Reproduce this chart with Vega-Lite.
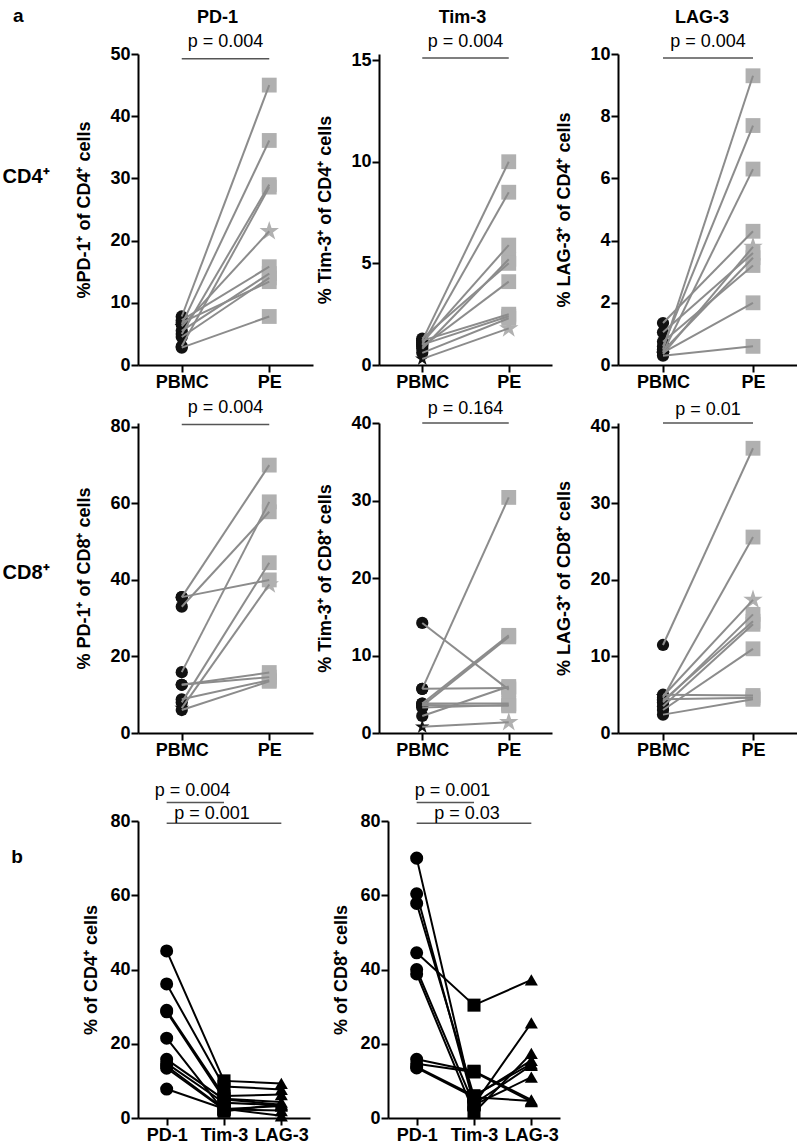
{
"$schema": "https://vega.github.io/schema/vega-lite/v6.json",
"padding": {"left": 0, "top": 7, "right": 0, "bottom": 0},
"config": {
 "font": "Liberation Sans",
 "view": {"stroke": null},
 "axis": {"grid": false, "domainColor": "#000000", "domainWidth": 2, "tickColor": "#000000", "tickWidth": 2, "tickSize": 7, "labelColor": "#000000", "labelFontSize": 18, "labelFontWeight": "bold", "labelPadding": 1, "titleColor": "#000000", "titleFontSize": 18, "titleFontWeight": "bold", "titlePadding": 16},
 "title": {"fontSize": 18, "fontWeight": "bold", "color": "#000000"},
 "text": {"color": "#000000"}
},
"datasets": {"cells": [
{"cells":"CD4","marker":"PD-1","patient":"P1","site":"PBMC","value":7.8},{"cells":"CD4","marker":"PD-1","patient":"P1","site":"PE","value":45.0},
{"cells":"CD4","marker":"PD-1","patient":"P2","site":"PBMC","value":6.5},{"cells":"CD4","marker":"PD-1","patient":"P2","site":"PE","value":36.1},
{"cells":"CD4","marker":"PD-1","patient":"P3","site":"PBMC","value":5.0},{"cells":"CD4","marker":"PD-1","patient":"P3","site":"PE","value":29.0},
{"cells":"CD4","marker":"PD-1","patient":"P4","site":"PBMC","value":3.0},{"cells":"CD4","marker":"PD-1","patient":"P4","site":"PE","value":28.6},
{"cells":"CD4","marker":"PD-1","patient":"P5","site":"PBMC","value":6.2},{"cells":"CD4","marker":"PD-1","patient":"P5","site":"PE","value":21.5},
{"cells":"CD4","marker":"PD-1","patient":"P6","site":"PBMC","value":7.2},{"cells":"CD4","marker":"PD-1","patient":"P6","site":"PE","value":15.8},
{"cells":"CD4","marker":"PD-1","patient":"P7","site":"PBMC","value":5.5},{"cells":"CD4","marker":"PD-1","patient":"P7","site":"PE","value":14.7},
{"cells":"CD4","marker":"PD-1","patient":"P8","site":"PBMC","value":4.5},{"cells":"CD4","marker":"PD-1","patient":"P8","site":"PE","value":14.0},
{"cells":"CD4","marker":"PD-1","patient":"P9","site":"PBMC","value":6.8},{"cells":"CD4","marker":"PD-1","patient":"P9","site":"PE","value":13.4},
{"cells":"CD4","marker":"PD-1","patient":"P10","site":"PBMC","value":2.8},{"cells":"CD4","marker":"PD-1","patient":"P10","site":"PE","value":7.8},
{"cells":"CD4","marker":"Tim-3","patient":"P1","site":"PBMC","value":1.2},{"cells":"CD4","marker":"Tim-3","patient":"P1","site":"PE","value":10.0},
{"cells":"CD4","marker":"Tim-3","patient":"P2","site":"PBMC","value":1.0},{"cells":"CD4","marker":"Tim-3","patient":"P2","site":"PE","value":8.5},
{"cells":"CD4","marker":"Tim-3","patient":"P3","site":"PBMC","value":1.1},{"cells":"CD4","marker":"Tim-3","patient":"P3","site":"PE","value":5.9},
{"cells":"CD4","marker":"Tim-3","patient":"P4","site":"PBMC","value":0.8},{"cells":"CD4","marker":"Tim-3","patient":"P4","site":"PE","value":5.2},
{"cells":"CD4","marker":"Tim-3","patient":"P5","site":"PBMC","value":0.3},{"cells":"CD4","marker":"Tim-3","patient":"P5","site":"PE","value":1.8},
{"cells":"CD4","marker":"Tim-3","patient":"P6","site":"PBMC","value":1.3},{"cells":"CD4","marker":"Tim-3","patient":"P6","site":"PE","value":5.0},
{"cells":"CD4","marker":"Tim-3","patient":"P7","site":"PBMC","value":0.9},{"cells":"CD4","marker":"Tim-3","patient":"P7","site":"PE","value":4.1},
{"cells":"CD4","marker":"Tim-3","patient":"P8","site":"PBMC","value":1.0},{"cells":"CD4","marker":"Tim-3","patient":"P8","site":"PE","value":2.4},
{"cells":"CD4","marker":"Tim-3","patient":"P9","site":"PBMC","value":0.6},{"cells":"CD4","marker":"Tim-3","patient":"P9","site":"PE","value":2.3},
{"cells":"CD4","marker":"Tim-3","patient":"P10","site":"PBMC","value":1.2},{"cells":"CD4","marker":"Tim-3","patient":"P10","site":"PE","value":2.5},
{"cells":"CD4","marker":"LAG-3","patient":"P1","site":"PBMC","value":0.5},{"cells":"CD4","marker":"LAG-3","patient":"P1","site":"PE","value":9.3},
{"cells":"CD4","marker":"LAG-3","patient":"P2","site":"PBMC","value":0.6},{"cells":"CD4","marker":"LAG-3","patient":"P2","site":"PE","value":7.7},
{"cells":"CD4","marker":"LAG-3","patient":"P3","site":"PBMC","value":0.4},{"cells":"CD4","marker":"LAG-3","patient":"P3","site":"PE","value":6.3},
{"cells":"CD4","marker":"LAG-3","patient":"P4","site":"PBMC","value":1.35},{"cells":"CD4","marker":"LAG-3","patient":"P4","site":"PE","value":4.3},
{"cells":"CD4","marker":"LAG-3","patient":"P5","site":"PBMC","value":0.35},{"cells":"CD4","marker":"LAG-3","patient":"P5","site":"PE","value":3.8},
{"cells":"CD4","marker":"LAG-3","patient":"P6","site":"PBMC","value":1.05},{"cells":"CD4","marker":"LAG-3","patient":"P6","site":"PE","value":3.6},
{"cells":"CD4","marker":"LAG-3","patient":"P7","site":"PBMC","value":0.45},{"cells":"CD4","marker":"LAG-3","patient":"P7","site":"PE","value":3.45},
{"cells":"CD4","marker":"LAG-3","patient":"P8","site":"PBMC","value":0.75},{"cells":"CD4","marker":"LAG-3","patient":"P8","site":"PE","value":3.2},
{"cells":"CD4","marker":"LAG-3","patient":"P9","site":"PBMC","value":0.4},{"cells":"CD4","marker":"LAG-3","patient":"P9","site":"PE","value":2.0},
{"cells":"CD4","marker":"LAG-3","patient":"P10","site":"PBMC","value":0.3},{"cells":"CD4","marker":"LAG-3","patient":"P10","site":"PE","value":0.6},
{"cells":"CD8","marker":"PD-1","patient":"P1","site":"PBMC","value":8.0},{"cells":"CD8","marker":"PD-1","patient":"P1","site":"PE","value":44.5},
{"cells":"CD8","marker":"PD-1","patient":"P2","site":"PBMC","value":35.5},{"cells":"CD8","marker":"PD-1","patient":"P2","site":"PE","value":70.0},
{"cells":"CD8","marker":"PD-1","patient":"P3","site":"PBMC","value":33.0},{"cells":"CD8","marker":"PD-1","patient":"P3","site":"PE","value":57.8},
{"cells":"CD8","marker":"PD-1","patient":"P4","site":"PBMC","value":15.9},{"cells":"CD8","marker":"PD-1","patient":"P4","site":"PE","value":60.4},
{"cells":"CD8","marker":"PD-1","patient":"P5","site":"PBMC","value":6.5},{"cells":"CD8","marker":"PD-1","patient":"P5","site":"PE","value":38.8},
{"cells":"CD8","marker":"PD-1","patient":"P6","site":"PBMC","value":35.5},{"cells":"CD8","marker":"PD-1","patient":"P6","site":"PE","value":40.0},
{"cells":"CD8","marker":"PD-1","patient":"P7","site":"PBMC","value":12.6},{"cells":"CD8","marker":"PD-1","patient":"P7","site":"PE","value":15.8},
{"cells":"CD8","marker":"PD-1","patient":"P8","site":"PBMC","value":12.6},{"cells":"CD8","marker":"PD-1","patient":"P8","site":"PE","value":14.6},
{"cells":"CD8","marker":"PD-1","patient":"P9","site":"PBMC","value":8.8},{"cells":"CD8","marker":"PD-1","patient":"P9","site":"PE","value":13.8},
{"cells":"CD8","marker":"PD-1","patient":"P10","site":"PBMC","value":6.0},{"cells":"CD8","marker":"PD-1","patient":"P10","site":"PE","value":13.5},
{"cells":"CD8","marker":"Tim-3","patient":"P1","site":"PBMC","value":5.7},{"cells":"CD8","marker":"Tim-3","patient":"P1","site":"PE","value":30.4},
{"cells":"CD8","marker":"Tim-3","patient":"P2","site":"PBMC","value":3.3},{"cells":"CD8","marker":"Tim-3","patient":"P2","site":"PE","value":3.6},
{"cells":"CD8","marker":"Tim-3","patient":"P3","site":"PBMC","value":5.7},{"cells":"CD8","marker":"Tim-3","patient":"P3","site":"PE","value":5.8},
{"cells":"CD8","marker":"Tim-3","patient":"P4","site":"PBMC","value":3.8},{"cells":"CD8","marker":"Tim-3","patient":"P4","site":"PE","value":3.8},
{"cells":"CD8","marker":"Tim-3","patient":"P5","site":"PBMC","value":0.8},{"cells":"CD8","marker":"Tim-3","patient":"P5","site":"PE","value":1.4},
{"cells":"CD8","marker":"Tim-3","patient":"P6","site":"PBMC","value":3.6},{"cells":"CD8","marker":"Tim-3","patient":"P6","site":"PE","value":3.5},
{"cells":"CD8","marker":"Tim-3","patient":"P7","site":"PBMC","value":3.8},{"cells":"CD8","marker":"Tim-3","patient":"P7","site":"PE","value":12.6},
{"cells":"CD8","marker":"Tim-3","patient":"P8","site":"PBMC","value":3.5},{"cells":"CD8","marker":"Tim-3","patient":"P8","site":"PE","value":12.4},
{"cells":"CD8","marker":"Tim-3","patient":"P9","site":"PBMC","value":2.2},{"cells":"CD8","marker":"Tim-3","patient":"P9","site":"PE","value":6.0},
{"cells":"CD8","marker":"Tim-3","patient":"P10","site":"PBMC","value":14.2},{"cells":"CD8","marker":"Tim-3","patient":"P10","site":"PE","value":5.6},
{"cells":"CD8","marker":"LAG-3","patient":"P1","site":"PBMC","value":11.5},{"cells":"CD8","marker":"LAG-3","patient":"P1","site":"PE","value":37.2},
{"cells":"CD8","marker":"LAG-3","patient":"P2","site":"PBMC","value":4.6},{"cells":"CD8","marker":"LAG-3","patient":"P2","site":"PE","value":25.6},
{"cells":"CD8","marker":"LAG-3","patient":"P3","site":"PBMC","value":4.0},{"cells":"CD8","marker":"LAG-3","patient":"P3","site":"PE","value":15.5},
{"cells":"CD8","marker":"LAG-3","patient":"P4","site":"PBMC","value":3.5},{"cells":"CD8","marker":"LAG-3","patient":"P4","site":"PE","value":14.2},
{"cells":"CD8","marker":"LAG-3","patient":"P5","site":"PBMC","value":4.8},{"cells":"CD8","marker":"LAG-3","patient":"P5","site":"PE","value":17.4},
{"cells":"CD8","marker":"LAG-3","patient":"P6","site":"PBMC","value":3.0},{"cells":"CD8","marker":"LAG-3","patient":"P6","site":"PE","value":11.0},
{"cells":"CD8","marker":"LAG-3","patient":"P7","site":"PBMC","value":5.0},{"cells":"CD8","marker":"LAG-3","patient":"P7","site":"PE","value":4.9},
{"cells":"CD8","marker":"LAG-3","patient":"P8","site":"PBMC","value":2.4},{"cells":"CD8","marker":"LAG-3","patient":"P8","site":"PE","value":4.4},
{"cells":"CD8","marker":"LAG-3","patient":"P9","site":"PBMC","value":4.2},{"cells":"CD8","marker":"LAG-3","patient":"P9","site":"PE","value":14.6},
{"cells":"CD8","marker":"LAG-3","patient":"P10","site":"PBMC","value":4.4},{"cells":"CD8","marker":"LAG-3","patient":"P10","site":"PE","value":4.6}
]},
"spacing": 23,
"resolve": {"scale": {"x": "independent", "y": "independent", "color": "independent", "shape": "independent", "size": "independent"}},
"vconcat": [
{"spacing": 8,
 "resolve": {"scale": {"x": "independent", "y": "independent", "color": "independent", "shape": "independent", "size": "independent"}},
 "vconcat": [
 {"spacing": 23,
  "resolve": {"scale": {"x": "independent", "y": "independent", "color": "independent", "shape": "independent", "size": "independent"}},
  "hconcat": [
  {"width": 52, "height": 246,
   "title": {"text": "a", "anchor": "start", "frame": "group", "fontSize": 19, "offset": 28, "dx": 13},
   "data": {"values": [{"label": "CD4⁺"}]},
   "mark": {"type": "text", "fontSize": 20, "fontWeight": "bold", "color": "#000000"},
   "encoding": {"text": {"field": "label", "type": "nominal"}}},
  {"bounds": "flush", "spacing": 66,
   "resolve": {"scale": {"x": "independent", "y": "independent", "color": "independent", "shape": "independent", "size": "independent"}},
   "hconcat": [
   {"width": 175, "height": 311,
    "title": {"text": "PD-1", "frame": "group", "offset": 6, "dx": -8},
    "layer": [
     {"data": {"name": "cells"}, "transform": [{"filter": "datum.cells==='CD4' && datum.marker==='PD-1'"}],
      "mark": {"type": "point", "filled": true, "opacity": 1},
      "encoding": {
       "x": {"field": "site", "type": "nominal", "scale": {"type": "point", "domain": ["PBMC", "PE"], "padding": 0.5}, "axis": {"title": null, "labelAngle": 0}},
       "y": {"field": "value", "type": "quantitative", "scale": {"domain": [0, 50], "nice": false}, "axis": {"title": "%PD-1⁺ of CD4⁺ cells", "values": [0, 10, 20, 30, 40, 50]}},
       "color": {"field": "site", "type": "nominal", "scale": {"domain": ["PBMC", "PE"], "range": ["#111111", "#b0b0b0"]}, "legend": null},
       "shape": {"condition": {"test": "datum.patient==='P5'", "value": "M0,-1L0.2245,-0.309L0.9511,-0.309L0.3633,0.118L0.5878,0.809L0,0.382L-0.5878,0.809L-0.3633,0.118L-0.9511,-0.309L-0.2245,-0.309Z"}, "field": "site", "type": "nominal", "scale": {"domain": ["PBMC", "PE"], "range": ["circle", "square"]}, "legend": null},
       "size": {"condition": [{"test": "datum.patient==='P5' && datum.site==='PE'", "value": 420}, {"test": "datum.patient==='P5'", "value": 230}], "field": "site", "type": "ordinal", "scale": {"domain": ["PBMC", "PE"], "range": [150, 220]}, "legend": null}}},
     {"data": {"name": "cells"}, "transform": [{"filter": "datum.cells==='CD4' && datum.marker==='PD-1'"}],
      "mark": {"type": "line", "color": "#8c8c8c", "strokeWidth": 2},
      "encoding": {
       "x": {"field": "site", "type": "nominal", "scale": {"type": "point", "domain": ["PBMC", "PE"], "padding": 0.5}, "axis": {"title": null, "labelAngle": 0}},
       "y": {"field": "value", "type": "quantitative", "scale": {"domain": [0, 50], "nice": false}, "axis": {"title": "%PD-1⁺ of CD4⁺ cells", "values": [0, 10, 20, 30, 40, 50]}},
       "detail": {"field": "patient", "type": "nominal"}}},
     {"data": {"values": [{"p": "p = 0.004"}]}, "mark": {"type": "rule", "color": "#555555", "strokeWidth": 1.5},
      "encoding": {"x": {"datum": "PBMC"}, "x2": {"datum": "PE"}, "y": {"datum": 49.25}}},
     {"data": {"values": [{"p": "p = 0.004"}]}, "mark": {"type": "text", "fontSize": 18, "baseline": "middle", "color": "#000000"},
      "encoding": {"text": {"field": "p", "type": "nominal"}, "y": {"datum": 51.9}}}
    ]},
   {"width": 173, "height": 311,
    "title": {"text": "Tim-3", "frame": "group", "offset": 6, "dx": -3},
    "layer": [
     {"data": {"name": "cells"}, "transform": [{"filter": "datum.cells==='CD4' && datum.marker==='Tim-3'"}],
      "mark": {"type": "point", "filled": true, "opacity": 1},
      "encoding": {
       "x": {"field": "site", "type": "nominal", "scale": {"type": "point", "domain": ["PBMC", "PE"], "padding": 0.5}, "axis": {"title": null, "labelAngle": 0}},
       "y": {"field": "value", "type": "quantitative", "scale": {"domain": [0, 15.3], "nice": false}, "axis": {"title": "% Tim-3⁺ of CD4⁺ cells", "values": [0, 5, 10, 15]}},
       "color": {"field": "site", "type": "nominal", "scale": {"domain": ["PBMC", "PE"], "range": ["#111111", "#b0b0b0"]}, "legend": null},
       "shape": {"condition": {"test": "datum.patient==='P5'", "value": "M0,-1L0.2245,-0.309L0.9511,-0.309L0.3633,0.118L0.5878,0.809L0,0.382L-0.5878,0.809L-0.3633,0.118L-0.9511,-0.309L-0.2245,-0.309Z"}, "field": "site", "type": "nominal", "scale": {"domain": ["PBMC", "PE"], "range": ["circle", "square"]}, "legend": null},
       "size": {"condition": [{"test": "datum.patient==='P5' && datum.site==='PE'", "value": 420}, {"test": "datum.patient==='P5'", "value": 230}], "field": "site", "type": "ordinal", "scale": {"domain": ["PBMC", "PE"], "range": [150, 220]}, "legend": null}}},
     {"data": {"name": "cells"}, "transform": [{"filter": "datum.cells==='CD4' && datum.marker==='Tim-3'"}],
      "mark": {"type": "line", "color": "#8c8c8c", "strokeWidth": 2},
      "encoding": {
       "x": {"field": "site", "type": "nominal", "scale": {"type": "point", "domain": ["PBMC", "PE"], "padding": 0.5}, "axis": {"title": null, "labelAngle": 0}},
       "y": {"field": "value", "type": "quantitative", "scale": {"domain": [0, 15.3], "nice": false}, "axis": {"title": "% Tim-3⁺ of CD4⁺ cells", "values": [0, 5, 10, 15]}},
       "detail": {"field": "patient", "type": "nominal"}}},
     {"data": {"values": [{"p": "p = 0.004"}]}, "mark": {"type": "rule", "color": "#555555", "strokeWidth": 1.5},
      "encoding": {"x": {"datum": "PBMC"}, "x2": {"datum": "PE"}, "y": {"datum": 15.1}}},
     {"data": {"values": [{"p": "p = 0.004"}]}, "mark": {"type": "text", "fontSize": 18, "baseline": "middle", "color": "#000000"},
      "encoding": {"text": {"field": "p", "type": "nominal"}, "y": {"datum": 15.89}}}
    ]},
   {"width": 180, "height": 311,
    "title": {"text": "LAG-3", "frame": "group", "offset": 6, "dx": -6},
    "layer": [
     {"data": {"name": "cells"}, "transform": [{"filter": "datum.cells==='CD4' && datum.marker==='LAG-3'"}],
      "mark": {"type": "point", "filled": true, "opacity": 1},
      "encoding": {
       "x": {"field": "site", "type": "nominal", "scale": {"type": "point", "domain": ["PBMC", "PE"], "padding": 0.5}, "axis": {"title": null, "labelAngle": 0}},
       "y": {"field": "value", "type": "quantitative", "scale": {"domain": [0, 10], "nice": false}, "axis": {"title": "% LAG-3⁺ of CD4⁺ cells", "values": [0, 2, 4, 6, 8, 10]}},
       "color": {"field": "site", "type": "nominal", "scale": {"domain": ["PBMC", "PE"], "range": ["#111111", "#b0b0b0"]}, "legend": null},
       "shape": {"condition": {"test": "datum.patient==='P5'", "value": "M0,-1L0.2245,-0.309L0.9511,-0.309L0.3633,0.118L0.5878,0.809L0,0.382L-0.5878,0.809L-0.3633,0.118L-0.9511,-0.309L-0.2245,-0.309Z"}, "field": "site", "type": "nominal", "scale": {"domain": ["PBMC", "PE"], "range": ["circle", "square"]}, "legend": null},
       "size": {"condition": [{"test": "datum.patient==='P5' && datum.site==='PE'", "value": 420}, {"test": "datum.patient==='P5'", "value": 230}], "field": "site", "type": "ordinal", "scale": {"domain": ["PBMC", "PE"], "range": [150, 220]}, "legend": null}}},
     {"data": {"name": "cells"}, "transform": [{"filter": "datum.cells==='CD4' && datum.marker==='LAG-3'"}],
      "mark": {"type": "line", "color": "#8c8c8c", "strokeWidth": 2},
      "encoding": {
       "x": {"field": "site", "type": "nominal", "scale": {"type": "point", "domain": ["PBMC", "PE"], "padding": 0.5}, "axis": {"title": null, "labelAngle": 0}},
       "y": {"field": "value", "type": "quantitative", "scale": {"domain": [0, 10], "nice": false}, "axis": {"title": "% LAG-3⁺ of CD4⁺ cells", "values": [0, 2, 4, 6, 8, 10]}},
       "detail": {"field": "patient", "type": "nominal"}}},
     {"data": {"values": [{"p": "p = 0.004"}]}, "mark": {"type": "rule", "color": "#555555", "strokeWidth": 1.5},
      "encoding": {"x": {"datum": "PBMC"}, "x2": {"datum": "PE"}, "y": {"datum": 9.87}}},
     {"data": {"values": [{"p": "p = 0.004"}]}, "mark": {"type": "text", "fontSize": 18, "baseline": "middle", "color": "#000000"},
      "encoding": {"text": {"field": "p", "type": "nominal"}, "y": {"datum": 10.39}}}
    ]}
   ]}
  ]},
 {"spacing": 23,
  "resolve": {"scale": {"x": "independent", "y": "independent", "color": "independent", "shape": "independent", "size": "independent"}},
  "hconcat": [
  {"width": 52, "height": 300,
   "data": {"values": [{"label": "CD8⁺"}]},
   "mark": {"type": "text", "fontSize": 20, "fontWeight": "bold", "color": "#000000"},
   "encoding": {"text": {"field": "label", "type": "nominal"}}},
  {"bounds": "flush", "spacing": 66,
   "resolve": {"scale": {"x": "independent", "y": "independent", "color": "independent", "shape": "independent", "size": "independent"}},
   "hconcat": [
   {"width": 175, "height": 310,
    "layer": [
     {"data": {"name": "cells"}, "transform": [{"filter": "datum.cells==='CD8' && datum.marker==='PD-1'"}],
      "mark": {"type": "point", "filled": true, "opacity": 1},
      "encoding": {
       "x": {"field": "site", "type": "nominal", "scale": {"type": "point", "domain": ["PBMC", "PE"], "padding": 0.5}, "axis": {"title": null, "labelAngle": 0}},
       "y": {"field": "value", "type": "quantitative", "scale": {"domain": [0, 81], "nice": false}, "axis": {"title": "% PD-1⁺ of CD8⁺ cells", "values": [0, 20, 40, 60, 80]}},
       "color": {"field": "site", "type": "nominal", "scale": {"domain": ["PBMC", "PE"], "range": ["#111111", "#b0b0b0"]}, "legend": null},
       "shape": {"condition": {"test": "datum.patient==='P5'", "value": "M0,-1L0.2245,-0.309L0.9511,-0.309L0.3633,0.118L0.5878,0.809L0,0.382L-0.5878,0.809L-0.3633,0.118L-0.9511,-0.309L-0.2245,-0.309Z"}, "field": "site", "type": "nominal", "scale": {"domain": ["PBMC", "PE"], "range": ["circle", "square"]}, "legend": null},
       "size": {"condition": [{"test": "datum.patient==='P5' && datum.site==='PE'", "value": 420}, {"test": "datum.patient==='P5'", "value": 230}], "field": "site", "type": "ordinal", "scale": {"domain": ["PBMC", "PE"], "range": [150, 220]}, "legend": null}}},
     {"data": {"name": "cells"}, "transform": [{"filter": "datum.cells==='CD8' && datum.marker==='PD-1'"}],
      "mark": {"type": "line", "color": "#8c8c8c", "strokeWidth": 2},
      "encoding": {
       "x": {"field": "site", "type": "nominal", "scale": {"type": "point", "domain": ["PBMC", "PE"], "padding": 0.5}, "axis": {"title": null, "labelAngle": 0}},
       "y": {"field": "value", "type": "quantitative", "scale": {"domain": [0, 81], "nice": false}, "axis": {"title": "% PD-1⁺ of CD8⁺ cells", "values": [0, 20, 40, 60, 80]}},
       "detail": {"field": "patient", "type": "nominal"}}},
     {"data": {"values": [{"p": "p = 0.004"}]}, "mark": {"type": "rule", "color": "#555555", "strokeWidth": 1.5},
      "encoding": {"x": {"datum": "PBMC"}, "x2": {"datum": "PE"}, "y": {"datum": 80.6}}},
     {"data": {"values": [{"p": "p = 0.004"}]}, "mark": {"type": "text", "fontSize": 18, "baseline": "middle", "color": "#000000"},
      "encoding": {"text": {"field": "p", "type": "nominal"}, "y": {"datum": 84.9}}}
    ]},
   {"width": 173, "height": 310,
    "layer": [
     {"data": {"name": "cells"}, "transform": [{"filter": "datum.cells==='CD8' && datum.marker==='Tim-3'"}],
      "mark": {"type": "point", "filled": true, "opacity": 1},
      "encoding": {
       "x": {"field": "site", "type": "nominal", "scale": {"type": "point", "domain": ["PBMC", "PE"], "padding": 0.5}, "axis": {"title": null, "labelAngle": 0}},
       "y": {"field": "value", "type": "quantitative", "scale": {"domain": [0, 40], "nice": false}, "axis": {"title": "% Tim-3⁺ of CD8⁺ cells", "values": [0, 10, 20, 30, 40]}},
       "color": {"field": "site", "type": "nominal", "scale": {"domain": ["PBMC", "PE"], "range": ["#111111", "#b0b0b0"]}, "legend": null},
       "shape": {"condition": {"test": "datum.patient==='P5'", "value": "M0,-1L0.2245,-0.309L0.9511,-0.309L0.3633,0.118L0.5878,0.809L0,0.382L-0.5878,0.809L-0.3633,0.118L-0.9511,-0.309L-0.2245,-0.309Z"}, "field": "site", "type": "nominal", "scale": {"domain": ["PBMC", "PE"], "range": ["circle", "square"]}, "legend": null},
       "size": {"condition": [{"test": "datum.patient==='P5' && datum.site==='PE'", "value": 420}, {"test": "datum.patient==='P5'", "value": 230}], "field": "site", "type": "ordinal", "scale": {"domain": ["PBMC", "PE"], "range": [150, 220]}, "legend": null}}},
     {"data": {"name": "cells"}, "transform": [{"filter": "datum.cells==='CD8' && datum.marker==='Tim-3'"}],
      "mark": {"type": "line", "color": "#8c8c8c", "strokeWidth": 2},
      "encoding": {
       "x": {"field": "site", "type": "nominal", "scale": {"type": "point", "domain": ["PBMC", "PE"], "padding": 0.5}, "axis": {"title": null, "labelAngle": 0}},
       "y": {"field": "value", "type": "quantitative", "scale": {"domain": [0, 40], "nice": false}, "axis": {"title": "% Tim-3⁺ of CD8⁺ cells", "values": [0, 10, 20, 30, 40]}},
       "detail": {"field": "patient", "type": "nominal"}}},
     {"data": {"values": [{"p": "p = 0.164"}]}, "mark": {"type": "rule", "color": "#555555", "strokeWidth": 1.5},
      "encoding": {"x": {"datum": "PBMC"}, "x2": {"datum": "PE"}, "y": {"datum": 40.0}}},
     {"data": {"values": [{"p": "p = 0.164"}]}, "mark": {"type": "text", "fontSize": 18, "baseline": "middle", "color": "#000000"},
      "encoding": {"text": {"field": "p", "type": "nominal"}, "y": {"datum": 41.8}}}
    ]},
   {"width": 180, "height": 310,
    "layer": [
     {"data": {"name": "cells"}, "transform": [{"filter": "datum.cells==='CD8' && datum.marker==='LAG-3'"}],
      "mark": {"type": "point", "filled": true, "opacity": 1},
      "encoding": {
       "x": {"field": "site", "type": "nominal", "scale": {"type": "point", "domain": ["PBMC", "PE"], "padding": 0.5}, "axis": {"title": null, "labelAngle": 0}},
       "y": {"field": "value", "type": "quantitative", "scale": {"domain": [0, 40.5], "nice": false}, "axis": {"title": "% LAG-3⁺ of CD8⁺ cells", "values": [0, 10, 20, 30, 40]}},
       "color": {"field": "site", "type": "nominal", "scale": {"domain": ["PBMC", "PE"], "range": ["#111111", "#b0b0b0"]}, "legend": null},
       "shape": {"condition": {"test": "datum.patient==='P5'", "value": "M0,-1L0.2245,-0.309L0.9511,-0.309L0.3633,0.118L0.5878,0.809L0,0.382L-0.5878,0.809L-0.3633,0.118L-0.9511,-0.309L-0.2245,-0.309Z"}, "field": "site", "type": "nominal", "scale": {"domain": ["PBMC", "PE"], "range": ["circle", "square"]}, "legend": null},
       "size": {"condition": [{"test": "datum.patient==='P5' && datum.site==='PE'", "value": 420}, {"test": "datum.patient==='P5'", "value": 230}], "field": "site", "type": "ordinal", "scale": {"domain": ["PBMC", "PE"], "range": [150, 220]}, "legend": null}}},
     {"data": {"name": "cells"}, "transform": [{"filter": "datum.cells==='CD8' && datum.marker==='LAG-3'"}],
      "mark": {"type": "line", "color": "#8c8c8c", "strokeWidth": 2},
      "encoding": {
       "x": {"field": "site", "type": "nominal", "scale": {"type": "point", "domain": ["PBMC", "PE"], "padding": 0.5}, "axis": {"title": null, "labelAngle": 0}},
       "y": {"field": "value", "type": "quantitative", "scale": {"domain": [0, 40.5], "nice": false}, "axis": {"title": "% LAG-3⁺ of CD8⁺ cells", "values": [0, 10, 20, 30, 40]}},
       "detail": {"field": "patient", "type": "nominal"}}},
     {"data": {"values": [{"p": "p = 0.01"}]}, "mark": {"type": "rule", "color": "#555555", "strokeWidth": 1.5},
      "encoding": {"x": {"datum": "PBMC"}, "x2": {"datum": "PE"}, "y": {"datum": 40.5}}},
     {"data": {"values": [{"p": "p = 0.01"}]}, "mark": {"type": "text", "fontSize": 18, "baseline": "middle", "color": "#000000"},
      "encoding": {"text": {"field": "p", "type": "nominal"}, "y": {"datum": 42.2}}}
    ]}
   ]}
  ]}
 ]},
{"spacing": 48,
 "resolve": {"scale": {"x": "independent", "y": "independent", "color": "independent", "shape": "independent", "size": "independent"}},
 "hconcat": [
 {"width": 34, "height": 72,
  "data": {"values": [{"label": "b"}]},
  "mark": {"type": "text", "fontSize": 19, "fontWeight": "bold", "color": "#000000"},
  "encoding": {"text": {"field": "label", "type": "nominal"}}},
 {"bounds": "flush", "spacing": 78,
  "resolve": {"scale": {"x": "independent", "y": "independent", "color": "independent", "shape": "independent", "size": "independent"}},
  "hconcat": [
  {"width": 172, "height": 297,
   "layer": [
    {"data": {"name": "cells"}, "transform": [{"filter": "datum.cells==='CD4' && datum.site==='PE'"}],
     "mark": {"type": "line", "color": "#000000", "strokeWidth": 2},
     "encoding": {
      "x": {"field": "marker", "type": "nominal", "sort": ["PD-1", "Tim-3", "LAG-3"], "scale": {"type": "point", "domain": ["PD-1", "Tim-3", "LAG-3"], "padding": 0.5}, "axis": {"title": null, "labelAngle": 0}},
      "y": {"field": "value", "type": "quantitative", "scale": {"domain": [0, 80], "nice": false}, "axis": {"title": "% of CD4⁺ cells", "values": [0, 20, 40, 60, 80], "titlePadding": 9.5}},
      "detail": {"field": "patient", "type": "nominal"}}},
    {"data": {"name": "cells"}, "transform": [{"filter": "datum.cells==='CD4' && datum.site==='PE'"}],
     "mark": {"type": "point", "filled": true, "opacity": 1, "color": "#000000", "size": 170},
     "encoding": {
      "x": {"field": "marker", "type": "nominal", "sort": ["PD-1", "Tim-3", "LAG-3"], "scale": {"type": "point", "domain": ["PD-1", "Tim-3", "LAG-3"], "padding": 0.5}, "axis": {"title": null, "labelAngle": 0}},
      "y": {"field": "value", "type": "quantitative", "scale": {"domain": [0, 80], "nice": false}, "axis": {"title": "% of CD4⁺ cells", "values": [0, 20, 40, 60, 80], "titlePadding": 9.5}},
      "shape": {"field": "marker", "type": "nominal", "scale": {"domain": ["PD-1", "Tim-3", "LAG-3"], "range": ["circle", "square", "triangle-up"]}, "legend": null}}},
    {"data": {"values": [{"p": "p = 0.004"}]}, "mark": {"type": "rule", "color": "#555555", "strokeWidth": 1.5},
     "encoding": {"x": {"datum": "PD-1"}, "x2": {"datum": "Tim-3"}, "y": {"datum": 85.0}}},
    {"data": {"values": [{"p": "p = 0.004"}]}, "mark": {"type": "text", "fontSize": 18, "baseline": "middle", "align": "left", "dx": -12, "color": "#000000"},
     "encoding": {"text": {"field": "p", "type": "nominal"}, "x": {"datum": "PD-1"}, "y": {"datum": 88.0}}},
    {"data": {"values": [{"p": "p = 0.001"}]}, "mark": {"type": "rule", "color": "#555555", "strokeWidth": 1.5},
     "encoding": {"x": {"datum": "PD-1"}, "x2": {"datum": "LAG-3"}, "y": {"datum": 79.4}}},
    {"data": {"values": [{"p": "p = 0.001"}]}, "mark": {"type": "text", "fontSize": 18, "baseline": "middle", "dx": -12, "color": "#000000"},
     "encoding": {"text": {"field": "p", "type": "nominal"}, "x": {"datum": "Tim-3"}, "y": {"datum": 81.9}}}
   ]},
  {"width": 172, "height": 297,
   "layer": [
    {"data": {"name": "cells"}, "transform": [{"filter": "datum.cells==='CD8' && datum.site==='PE'"}],
     "mark": {"type": "line", "color": "#000000", "strokeWidth": 2},
     "encoding": {
      "x": {"field": "marker", "type": "nominal", "sort": ["PD-1", "Tim-3", "LAG-3"], "scale": {"type": "point", "domain": ["PD-1", "Tim-3", "LAG-3"], "padding": 0.5}, "axis": {"title": null, "labelAngle": 0}},
      "y": {"field": "value", "type": "quantitative", "scale": {"domain": [0, 80], "nice": false}, "axis": {"title": "% of CD8⁺ cells", "values": [0, 20, 40, 60, 80], "titlePadding": 9.5}},
      "detail": {"field": "patient", "type": "nominal"}}},
    {"data": {"name": "cells"}, "transform": [{"filter": "datum.cells==='CD8' && datum.site==='PE'"}],
     "mark": {"type": "point", "filled": true, "opacity": 1, "color": "#000000", "size": 170},
     "encoding": {
      "x": {"field": "marker", "type": "nominal", "sort": ["PD-1", "Tim-3", "LAG-3"], "scale": {"type": "point", "domain": ["PD-1", "Tim-3", "LAG-3"], "padding": 0.5}, "axis": {"title": null, "labelAngle": 0}},
      "y": {"field": "value", "type": "quantitative", "scale": {"domain": [0, 80], "nice": false}, "axis": {"title": "% of CD8⁺ cells", "values": [0, 20, 40, 60, 80], "titlePadding": 9.5}},
      "shape": {"field": "marker", "type": "nominal", "scale": {"domain": ["PD-1", "Tim-3", "LAG-3"], "range": ["circle", "square", "triangle-up"]}, "legend": null}}},
    {"data": {"values": [{"p": "p = 0.001"}]}, "mark": {"type": "rule", "color": "#555555", "strokeWidth": 1.5},
     "encoding": {"x": {"datum": "PD-1"}, "x2": {"datum": "Tim-3"}, "y": {"datum": 85.0}}},
    {"data": {"values": [{"p": "p = 0.001"}]}, "mark": {"type": "text", "fontSize": 18, "baseline": "middle", "align": "left", "dx": -2, "color": "#000000"},
     "encoding": {"text": {"field": "p", "type": "nominal"}, "x": {"datum": "PD-1"}, "y": {"datum": 88.0}}},
    {"data": {"values": [{"p": "p = 0.03"}]}, "mark": {"type": "rule", "color": "#555555", "strokeWidth": 1.5},
     "encoding": {"x": {"datum": "PD-1"}, "x2": {"datum": "LAG-3"}, "y": {"datum": 79.4}}},
    {"data": {"values": [{"p": "p = 0.03"}]}, "mark": {"type": "text", "fontSize": 18, "baseline": "middle", "dx": -7, "color": "#000000"},
     "encoding": {"text": {"field": "p", "type": "nominal"}, "x": {"datum": "Tim-3"}, "y": {"datum": 81.9}}}
   ]}
  ]}
 ]}
]
}
